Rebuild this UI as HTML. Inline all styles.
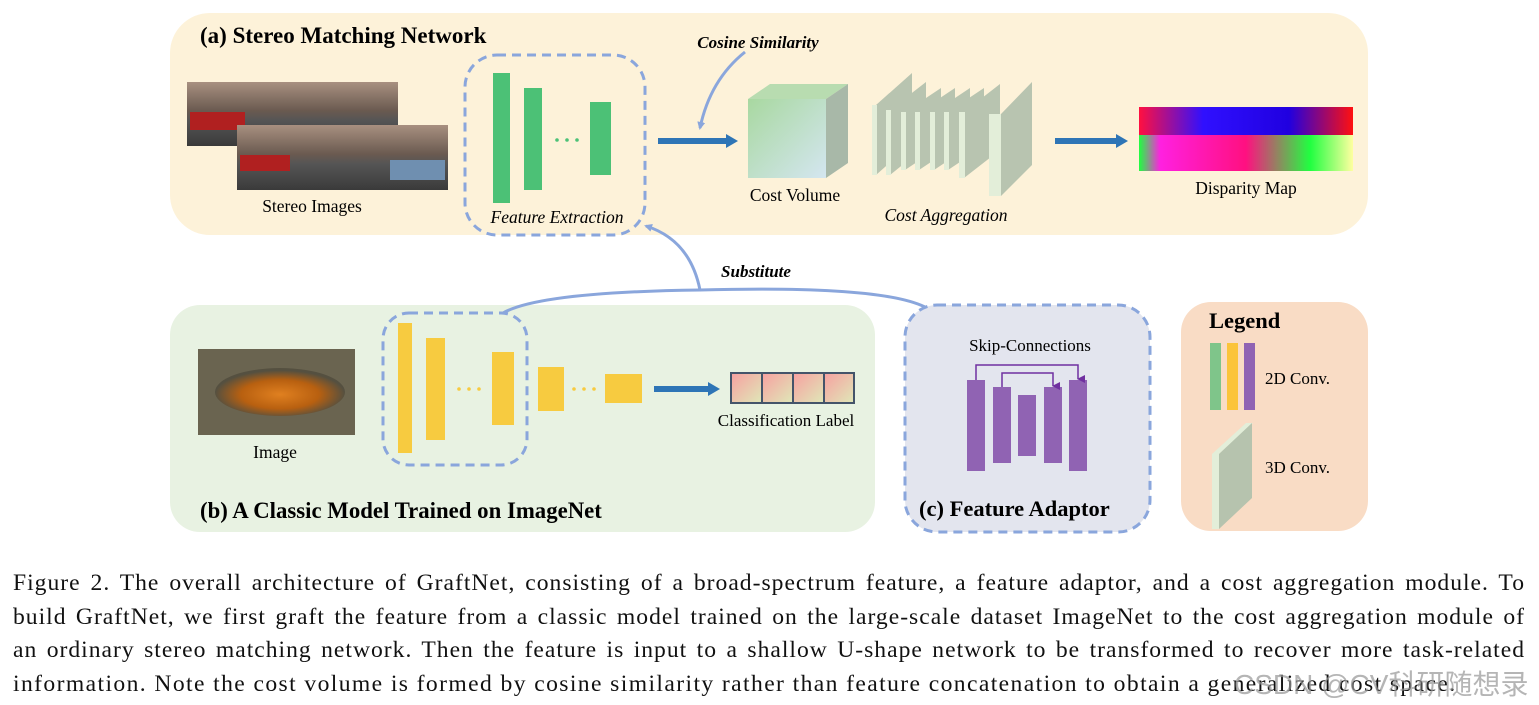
<!DOCTYPE html>
<html><head><meta charset="utf-8"><style>
body{margin:0;width:1539px;height:705px;background:#fff;overflow:hidden;position:relative;font-family:"Liberation Serif",serif}
svg{position:absolute;left:0;top:0}
.cap{position:absolute;left:13px;top:567px;width:1512px;font-size:23.6px;line-height:33.6px;color:#111}
.cap div{text-align:justify;text-align-last:justify;white-space:nowrap;letter-spacing:1px}
.cap div.l{text-align-last:left;letter-spacing:1.4px}
.wm{position:absolute;left:1234px;top:663px;font-family:"Liberation Sans","Noto Sans CJK SC",sans-serif;font-size:28px;color:rgba(150,150,150,.7)}
</style></head><body>
<svg width="1539" height="705" font-family="Liberation Serif, serif">
<defs>
<linearGradient id="cube" x1="0" y1="0" x2="1" y2="1"><stop offset="0" stop-color="#a8d8a0"/><stop offset="1" stop-color="#d4e6f0"/></linearGradient>
<linearGradient id="cls" x1="0" y1="0" x2="1" y2="1"><stop offset="0" stop-color="#f7a0a0"/><stop offset="1" stop-color="#dfe8b8"/></linearGradient>
<linearGradient id="disp" x1="0" y1="0" x2="1" y2="0"><stop offset="0" stop-color="#ff1040"/><stop offset=".3" stop-color="#3010ff"/><stop offset=".7" stop-color="#2000e0"/><stop offset="1" stop-color="#ff1010"/></linearGradient>
<linearGradient id="disp2" x1="0" y1="0" x2="1" y2="0"><stop offset="0" stop-color="#20ff40"/><stop offset=".1" stop-color="#ff20e0"/><stop offset=".5" stop-color="#ff1080"/><stop offset=".8" stop-color="#20ff40"/><stop offset="1" stop-color="#ffffa0"/></linearGradient>
<linearGradient id="st" x1="0" y1="0" x2="0" y2="1"><stop offset="0" stop-color="#a89080"/><stop offset=".45" stop-color="#6a5a50"/><stop offset=".6" stop-color="#555"/><stop offset="1" stop-color="#3a3a3a"/></linearGradient>
<radialGradient id="fish" cx=".5" cy=".55" r=".5"><stop offset="0" stop-color="#e08020"/><stop offset=".6" stop-color="#b86010"/><stop offset="1" stop-color="#555040"/></radialGradient>
<marker id="ah" markerWidth="8" markerHeight="8" refX="6" refY="4" orient="auto" markerUnits="userSpaceOnUse"><path d="M0,0 L8,4 L0,8 z" fill="#8aa6dc"/></marker>
<marker id="pa" markerWidth="8" markerHeight="8" refX="4" refY="7" orient="auto" markerUnits="userSpaceOnUse"><path d="M0,0 L8,0 L4,8z" fill="#7030a0"/></marker>
</defs>
<rect x="170" y="13" width="1198" height="222" rx="40" fill="#fdf2d9"/>
<rect x="170" y="305" width="705" height="227" rx="30" fill="#e8f2e2"/>
<rect x="905" y="305" width="245" height="227" rx="32" fill="#e3e5ee" stroke="#8aa6dc" stroke-width="3" stroke-dasharray="9,6"/>
<rect x="1181" y="302" width="187" height="229" rx="30" fill="#f9dcc5"/>
<text x="200" y="43" font-size="23" font-weight="bold">(a) Stereo Matching Network</text>
<rect x="187" y="82" width="211" height="64" fill="url(#st)"/>
<rect x="190" y="112" width="55" height="18" fill="#b02020"/>
<rect x="237" y="125" width="211" height="65" fill="url(#st)"/>
<rect x="240" y="155" width="50" height="16" fill="#b02020"/>
<rect x="390" y="160" width="55" height="20" fill="#6f8fb0"/>
<text x="312" y="212" font-size="17.5" text-anchor="middle">Stereo Images</text>
<rect x="465" y="55" width="180" height="180" rx="32" fill="none" stroke="#8aa6dc" stroke-width="3" stroke-dasharray="9,6"/>
<rect x="493" y="73" width="17" height="130" fill="#4cc176"/>
<rect x="524" y="88" width="18" height="102" fill="#4cc176"/>
<rect x="590" y="102" width="21" height="73" fill="#4cc176"/>
<g fill="#4cc176"><circle cx="557" cy="140" r="1.8"/><circle cx="567" cy="140" r="1.8"/><circle cx="577" cy="140" r="1.8"/></g>
<text x="557" y="223" font-size="17.5" font-style="italic" text-anchor="middle">Feature Extraction</text>
<path d="M658,141 H728" stroke="#2e75b6" stroke-width="6"/><path d="M726,134 L738,141 L726,148z" fill="#2e75b6"/>
<text x="758" y="48" font-size="17" font-style="italic" font-weight="bold" text-anchor="middle">Cosine Similarity</text>
<path d="M745,52 Q710,80 700,128" fill="none" stroke="#8aa6dc" stroke-width="3" marker-end="url(#ah)"/>
<polygon points="748,99 770,84 848,84 826,99" fill="#b8dcb0"/>
<polygon points="826,99 848,84 848,163 826,178" fill="#a8b8a8"/>
<rect x="748" y="99" width="78" height="79" fill="url(#cube)"/>
<text x="795" y="201" font-size="17.5" text-anchor="middle">Cost Volume</text>
<g>
<polygon points="876,105 912,73 912,143 876,175" fill="#b8c4b0"/><rect x="872" y="105" width="5" height="70" fill="#e3eed9"/>
<polygon points="890,110 926,82 926,146 890,175" fill="#b8c4b0"/><rect x="886" y="110" width="5" height="65" fill="#e3eed9"/>
<polygon points="905,112 941,88 941,146 905,170" fill="#b8c4b0"/><rect x="901" y="112" width="5" height="58" fill="#e3eed9"/>
<polygon points="919,112 955,88 955,146 919,170" fill="#b8c4b0"/><rect x="915" y="112" width="5" height="58" fill="#e3eed9"/>
<polygon points="934,112 970,88 970,146 934,170" fill="#b8c4b0"/><rect x="930" y="112" width="5" height="58" fill="#e3eed9"/>
<polygon points="948,112 984,88 984,146 948,170" fill="#b8c4b0"/><rect x="944" y="112" width="5" height="58" fill="#e3eed9"/>
<polygon points="964,112 1000,84 1000,150 964,178" fill="#b8c4b0"/><rect x="959" y="112" width="6" height="66" fill="#e3eed9"/>
<polygon points="1001,114 1032,82 1032,165 1001,196" fill="#b8c4b0"/><rect x="989" y="114" width="12" height="82" fill="#e3eed9"/>
</g>
<text x="946" y="221" font-size="17.5" font-style="italic" text-anchor="middle">Cost Aggregation</text>
<path d="M1055,141 H1118" stroke="#2e75b6" stroke-width="6"/><path d="M1116,134 L1128,141 L1116,148z" fill="#2e75b6"/>
<rect x="1139" y="107" width="214" height="64" fill="url(#disp)"/>
<rect x="1139" y="135" width="214" height="36" fill="url(#disp2)"/>
<text x="1246" y="194" font-size="17.5" text-anchor="middle">Disparity Map</text>
<path d="M925,307 Q880,285 700,290 Q540,292 503,313" fill="none" stroke="#8aa6dc" stroke-width="3"/>
<path d="M700,290 Q690,240 646,226" fill="none" stroke="#8aa6dc" stroke-width="3" marker-end="url(#ah)"/>
<text x="756" y="277" font-size="17" font-style="italic" font-weight="bold" text-anchor="middle">Substitute</text>
<rect x="198" y="349" width="157" height="86" fill="#6a6450"/>
<ellipse cx="280" cy="392" rx="65" ry="24" fill="url(#fish)"/>
<text x="275" y="458" font-size="17.5" text-anchor="middle">Image</text>
<rect x="383" y="313" width="144" height="152" rx="26" fill="none" stroke="#8aa6dc" stroke-width="3" stroke-dasharray="9,6"/>
<g fill="#f7cb40">
<rect x="398" y="323" width="14" height="130"/><rect x="426" y="338" width="19" height="102"/>
<rect x="492" y="352" width="22" height="73"/><rect x="538" y="367" width="26" height="44"/>
<rect x="605" y="374" width="37" height="29"/>
<circle cx="459" cy="389" r="1.8"/><circle cx="469" cy="389" r="1.8"/><circle cx="479" cy="389" r="1.8"/>
<circle cx="574" cy="389" r="1.8"/><circle cx="584" cy="389" r="1.8"/><circle cx="594" cy="389" r="1.8"/></g>
<path d="M654,389 H710" stroke="#2e75b6" stroke-width="6"/><path d="M708,382 L720,389 L708,396z" fill="#2e75b6"/>
<g stroke="#44546a" stroke-width="2" fill="url(#cls)">
<rect x="731" y="373" width="31" height="30"/><rect x="762" y="373" width="31" height="30"/>
<rect x="793" y="373" width="31" height="30"/><rect x="824" y="373" width="30" height="30"/></g>
<text x="786" y="426" font-size="17" text-anchor="middle">Classification Label</text>
<text x="200" y="518" font-size="22.8" font-weight="bold">(b) A Classic Model Trained on ImageNet</text>
<text x="1030" y="351" font-size="17" text-anchor="middle">Skip-Connections</text>
<g fill="#9063b3">
<rect x="967" y="380" width="18" height="91"/><rect x="993" y="387" width="18" height="76"/>
<rect x="1018" y="395" width="18" height="61"/><rect x="1044" y="387" width="18" height="76"/>
<rect x="1069" y="380" width="18" height="91"/></g>
<path d="M976,380 V365 H1078 V379" fill="none" stroke="#7030a0" stroke-width="1.5" marker-end="url(#pa)"/>
<path d="M1002,387 V373 H1053 V386" fill="none" stroke="#7030a0" stroke-width="1.5" marker-end="url(#pa)"/>
<text x="919" y="516" font-size="22.5" font-weight="bold">(c) Feature Adaptor</text>
<text x="1209" y="328" font-size="22.5" font-weight="bold">Legend</text>
<rect x="1210" y="343" width="11" height="67" fill="#7fc58a"/>
<rect x="1227" y="343" width="11" height="67" fill="#fbc43a"/>
<rect x="1244" y="343" width="11" height="67" fill="#9063b3"/>
<text x="1265" y="384" font-size="17">2D Conv.</text>
<polygon points="1212,454 1246,423 1253,423 1219,454" fill="#e3eed9"/>
<polygon points="1219,454 1252,423 1252,498 1219,529" fill="#b6c3ae"/>
<rect x="1212" y="454" width="7" height="75" fill="#e3eed9"/>
<text x="1265" y="473" font-size="17">3D Conv.</text>
</svg>
<div class="cap">
<div>Figure 2. The overall architecture of GraftNet, consisting of a broad-spectrum feature, a feature adaptor, and a cost aggregation module. To</div>
<div>build GraftNet, we first graft the feature from a classic model trained on the large-scale dataset ImageNet to the cost aggregation module of</div>
<div>an ordinary stereo matching network. Then the feature is input to a shallow U-shape network to be transformed to recover more task-related</div>
<div class="l">information. Note the cost volume is formed by cosine similarity rather than feature concatenation to obtain a generalized cost space.</div>
</div>
<div class="wm">CSDN @CV科研随想录</div>
</body></html>
